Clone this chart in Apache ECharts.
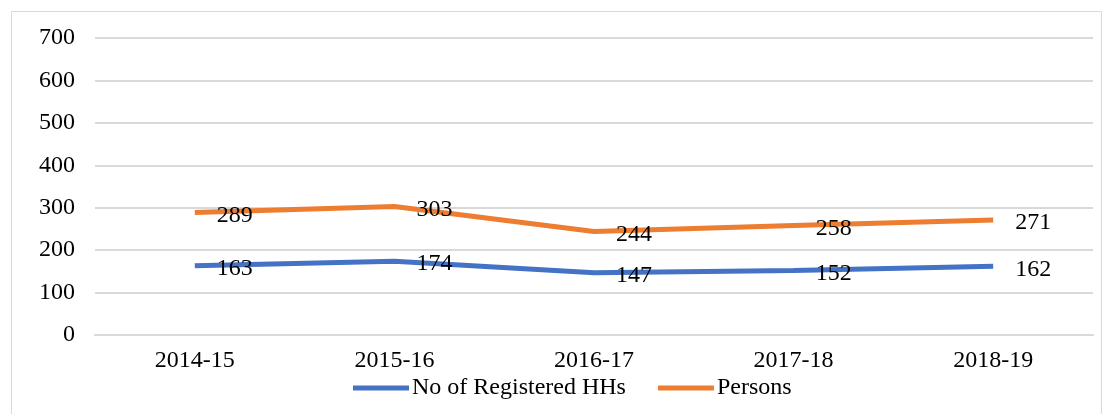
<!DOCTYPE html>
<html>
<head>
<meta charset="utf-8">
<script src="https://cdn.jsdelivr.net/npm/echarts@6/dist/echarts.min.js"></script>
<style>
  html, body { margin: 0; padding: 0; background: #fff; }
  #main { width: 1112px; height: 414px; }
</style>
</head>
<body>
<div id="main"></div>
<script>
const years = ['2014-15', '2015-16', '2016-17', '2017-18', '2018-19'];
const households = [163, 174, 147, 152, 162];
const persons = [289, 303, 244, 258, 271];

const font = '"Liberation Serif", "Times New Roman", serif';

function lineSeries(name, data, color) {
  return {
    name: name,
    type: 'line',
    data: data,
    symbol: 'circle',
    symbolSize: 0.1,
    showSymbol: true,
    lineStyle: { color: color, width: 5 },
    itemStyle: { color: color },
    label: {
      show: true, position: 'right', distance: 22, offset: [0, 3],
      color: '#000', fontSize: 24, fontFamily: font
    }
  };
}

const chart = echarts.init(document.getElementById('main'));
chart.setOption({
  animation: false,
  textStyle: { fontFamily: font },
  graphic: [{
    type: 'rect',
    shape: { x: 11.5, y: 11.5, width: 1090, height: 420 },
    style: { fill: 'none', stroke: '#d9d9d9', lineWidth: 1 },
    silent: true
  }],
  grid: { left: 95, right: 19, top: 38, bottom: 79 },
  legend: {
    bottom: 9,
    left: 348,
    itemWidth: 56,
    itemHeight: 5,
    itemGap: 32,
    icon: 'rect',
    textStyle: { fontFamily: font, fontSize: 24, color: '#000', padding: [0, 0, 0, -2] },
    data: ['No of Registered HHs', 'Persons']
  },
  xAxis: {
    type: 'category',
    data: years,
    axisLine: { lineStyle: { color: '#d9d9d9', width: 2 } },
    axisTick: { show: false },
    axisLabel: { color: '#000', fontSize: 24, fontFamily: font, margin: 14 }
  },
  yAxis: {
    type: 'value',
    min: 0,
    max: 700,
    interval: 100,
    axisLine: { show: false },
    axisTick: { show: false },
    splitLine: { lineStyle: { color: '#d9d9d9', width: 2 } },
    axisLabel: { color: '#000', fontSize: 24, fontFamily: font, margin: 20 }
  },
  series: [
    lineSeries('No of Registered HHs', households, '#4472C4'),
    lineSeries('Persons', persons, '#ED7D31')
  ]
});
</script>
</body>
</html>
